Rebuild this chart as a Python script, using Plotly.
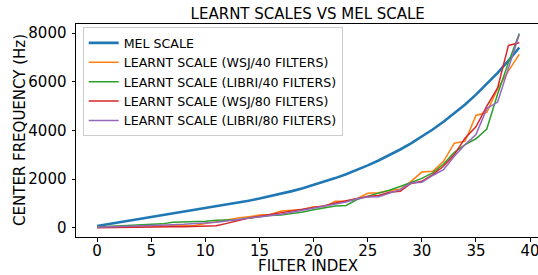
import plotly.graph_objects as go

filter_index = list(range(40))

mel_scale = [74, 147, 221, 294, 368, 441, 515, 589, 662, 736,
             809, 883, 956, 1031, 1113, 1200, 1295, 1397, 1507, 1626,
             1754, 1893, 2042, 2203, 2376, 2564, 2766, 2984, 3219, 3472,
             3746, 4041, 4360, 4704, 5074, 5474, 5906, 6371, 6873, 7415]

wsj_40 = [40, 45, 50, 55, 60, 65, 70, 75, 80, 90,
          170, 250, 300, 400, 450, 520, 550, 690, 720, 750,
          860, 860, 1090, 1090, 1200, 1420, 1440, 1530, 1580, 1910,
          2290, 2320, 2730, 3480, 3560, 4620, 4750, 5720, 6450, 7130]

libri_40 = [30, 50, 70, 90, 110, 130, 160, 230, 235, 240,
            270, 310, 320, 330, 400, 460, 500, 520, 570, 650,
            740, 820, 890, 920, 1160, 1300, 1420, 1540, 1700, 1880,
            2030, 2260, 2620, 3100, 3420, 3660, 4060, 5500, 6800, 7990]

wsj_80 = [0, 10, 15, 20, 25, 30, 35, 40, 40, 45,
          60, 80, 180, 290, 400, 470, 540, 610, 680, 750,
          820, 910, 1020, 1110, 1230, 1290, 1330, 1460, 1500, 1820,
          1910, 2190, 2530, 3010, 3690, 4150, 5000, 5750, 7500, 7610]

libri_80 = [20, 30, 40, 50, 60, 80, 100, 120, 140, 160,
            190, 230, 280, 330, 400, 450, 500, 560, 640, 720,
            790, 870, 960, 1060, 1190, 1260, 1280, 1430, 1570, 1840,
            1870, 2150, 2390, 2940, 3420, 3830, 4900, 5170, 6560, 7950]

series = [
    ("MEL SCALE", mel_scale, "#1f77b4", 2.6),
    ("LEARNT SCALE (WSJ/40 FILTERS)", wsj_40, "#ff7f0e", 1.5),
    ("LEARNT SCALE (LIBRI/40 FILTERS)", libri_40, "#2ca02c", 1.5),
    ("LEARNT SCALE (WSJ/80 FILTERS)", wsj_80, "#d62728", 1.5),
    ("LEARNT SCALE (LIBRI/80 FILTERS)", libri_80, "#9467bd", 1.5),
]

x_ticks = [0, 5, 10, 15, 20, 25, 30, 35, 40]
y_ticks = [0, 2000, 4000, 6000, 8000]

FONT = "DejaVu Sans"

fig = go.Figure()
for name, vals, color, width in series:
    fig.add_trace(go.Scatter(x=filter_index, y=vals, mode="lines", name=name,
                             line=dict(color=color, width=width)))

fig.update_layout(
    width=538, height=275,
    margin=dict(l=76, r=0, t=24, b=37.5, pad=0, autoexpand=False),
    paper_bgcolor="white", plot_bgcolor="white",
    font=dict(family=FONT, size=15, color="black"),
    title=dict(text="LEARNT SCALES VS MEL SCALE", x=0.572, xanchor="center",
               y=1 - 14 / 275, yanchor="middle", yref="container",
               font=dict(family=FONT, size=15, color="black")),
    showlegend=True,
    legend=dict(x=0.0145, y=0.985, xanchor="left", yanchor="top",
                bgcolor="rgba(255,255,255,0.8)", bordercolor="#cccccc", borderwidth=1,
                font=dict(family=FONT, size=12.6, color="black"),
                tracegroupgap=0, itemwidth=30),
    annotations=[
        dict(text="FILTER INDEX", xref="paper", yref="paper", x=0.5 + 1.2 / 462, y=-(266.5 - 237.5) / 213.5,
             xanchor="center", yanchor="middle", showarrow=False,
             font=dict(family=FONT, size=15, color="black")),
        dict(text="CENTER FREQUENCY (Hz)", xref="paper", yref="paper", x=-(76 - 20.7) / 462,
             y=(237.5 - 130.5) / 213.5, xanchor="center", yanchor="middle", textangle=-90,
             showarrow=False, font=dict(family=FONT, size=15, color="black")),
    ],
)

fig.update_xaxes(range=[-1.95, 40.73], tickvals=x_ticks, ticktext=[str(v) for v in x_ticks],
                 automargin=False, ticklabeloverflow="allow", ticklabelstandoff=-4,
                 showgrid=False, zeroline=False, showline=True, linecolor="black", linewidth=1,
                 mirror=True, ticks="outside", ticklen=3.5, tickcolor="black",
                 tickfont=dict(family=FONT, size=15, color="black"))
fig.update_yaxes(range=[-380, 8380], tickvals=y_ticks, ticktext=[str(v) for v in y_ticks],
                 automargin=False, ticklabeloverflow="allow", ticklabelstandoff=2,
                 showgrid=False, zeroline=False, showline=True, linecolor="black", linewidth=1,
                 mirror=False, ticks="outside", ticklen=3.5, tickcolor="black",
                 tickfont=dict(family=FONT, size=15, color="black"))

fig.write_html("out.html", config={"displayModeBar": False},
               post_script="document.body.style.margin='0px';")
